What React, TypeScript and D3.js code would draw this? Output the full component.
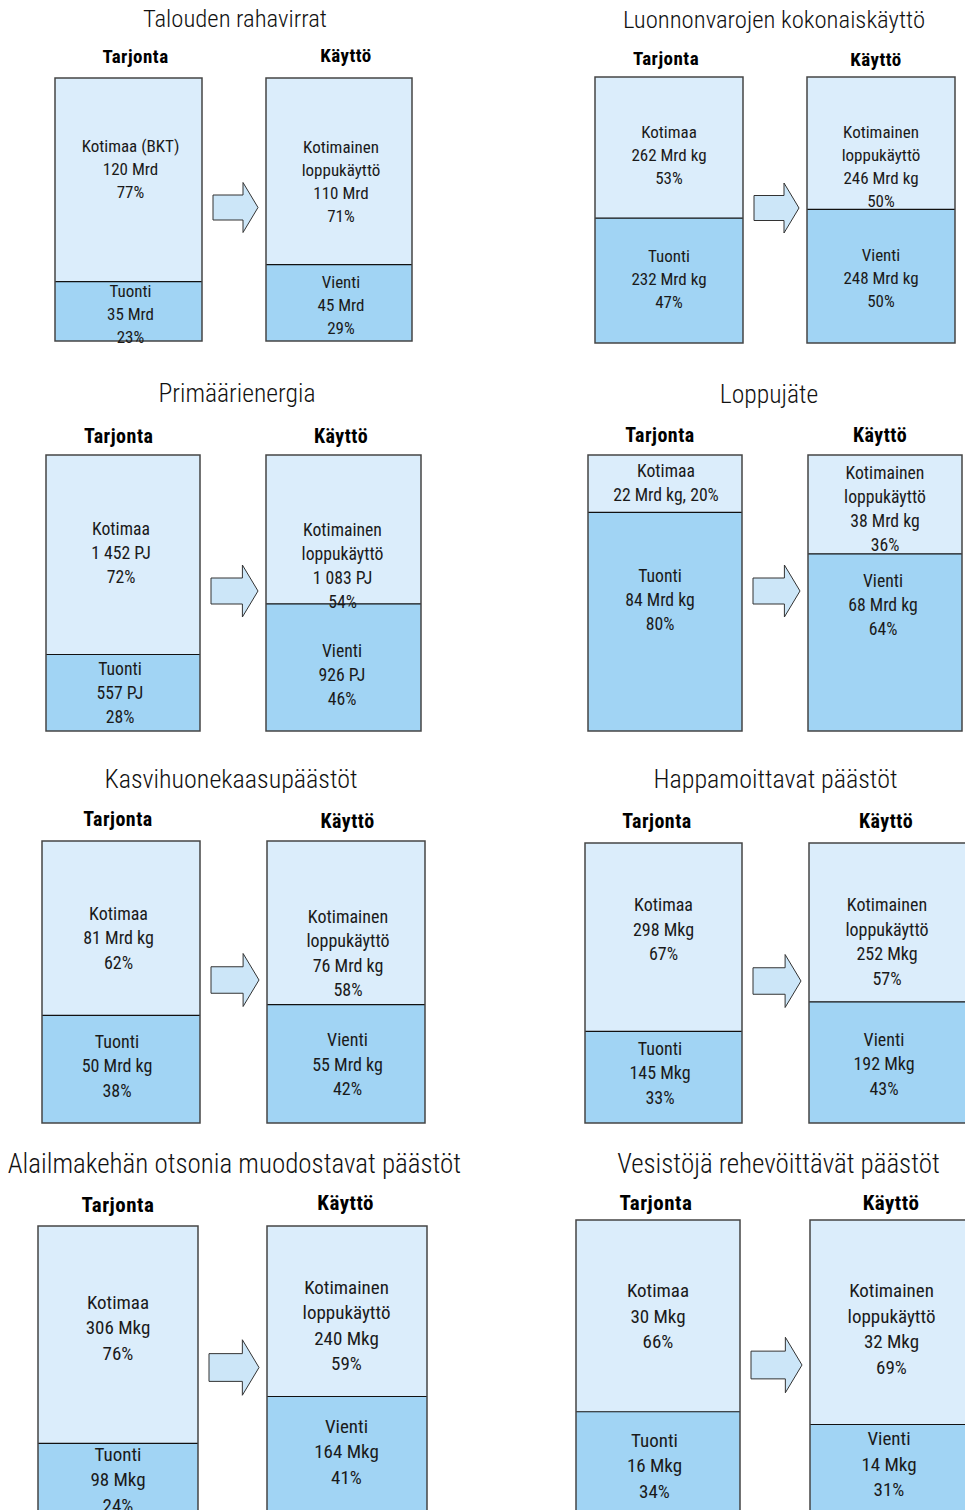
import React from "react";
import * as d3 from "d3";

// Supply and use of eight national accounts / environmental accounts
const panelTitles = [
  "Talouden rahavirrat",
  "Luonnonvarojen kokonaiskäyttö",
  "Primäärienergia",
  "Loppujäte",
  "Kasvihuonekaasupäästöt",
  "Happamoittavat päästöt",
  "Alailmakehän otsonia muodostavat päästöt",
  "Vesistöjä rehevöittävät päästöt",
];
const units = ["Mrd", "Mrd kg", "PJ", "Mrd kg", "Mrd kg", "Mkg", "Mkg", "Mkg"];
const domesticSupplyNames = ["Kotimaa (BKT)", "Kotimaa", "Kotimaa", "Kotimaa", "Kotimaa", "Kotimaa", "Kotimaa", "Kotimaa"];

const supplyDomestic = [120, 262, 1452, 22, 81, 298, 306, 30];
const supplyImport = [35, 232, 557, 84, 50, 145, 98, 16];
const useDomestic = [110, 246, 1083, 38, 76, 252, 240, 32];
const useExport = [45, 248, 926, 68, 55, 192, 164, 14];

const supplyDomesticPct = [77, 53, 72, 20, 62, 67, 76, 66];
const supplyImportPct = [23, 47, 28, 80, 38, 33, 24, 34];
const useDomesticPct = [71, 50, 54, 36, 58, 57, 59, 69];
const useExportPct = [29, 50, 46, 64, 42, 43, 41, 31];

const supplyHeading = "Tarjonta";
const useHeading = "Käyttö";
const importName = "Tuonti";
const exportName = ["Vienti"];
const domesticUseName = ["Kotimainen", "loppukäyttö"];

// ---- layout ----
const W = 965;
const H = 1510;
const FONT = "'Roboto Condensed', 'Liberation Sans Narrow', 'DejaVu Sans Condensed', sans-serif";
const COLOR_TOP = "#dbedfb";
const COLOR_BOTTOM = "#a1d4f4";
const COLOR_ARROW = "#cce6f8";
const COLOR_BORDER = "#454545";

// per-row typography
const rowStyle = [
  { fs: 17, lh: 23, title: 24.7, sub: 19, scale: 1.0 },
  { fs: 17.7, lh: 24, title: 25.6, sub: 20, scale: 1.04 },
  { fs: 18, lh: 24.5, title: 26, sub: 20, scale: 1.06 },
  { fs: 19, lh: 25.5, title: 27, sub: 21, scale: 1.11 },
];

type Layout = {
  row: number;
  title: [number, number];
  subL: [number, number];
  subR: [number, number];
  boxL: [number, number];
  boxR: [number, number];
  y: [number, number];
  dyL: [number, number];
  dyR: [number, number];
  dxL: [number, number];
  dxR: [number, number];
  compactTop?: boolean;
};

const layouts: Layout[] = [
  { row: 0, title: [235, 27], subL: [135.5, 63], subR: [346, 62], boxL: [55, 202], boxR: [266, 412], y: [78, 341], dyL: [-11, 3], dyR: [10, 2.5], dxL: [2, 2], dxR: [2, 2] },
  { row: 0, title: [774, 28], subL: [666, 65], subR: [876, 66], boxL: [595, 743], boxR: [807, 955], y: [77, 343], dyL: [7.5, -2], dyR: [23.4, 2], dxL: [0, 0], dxR: [0, 0] },
  { row: 1, title: [237, 402], subL: [118.7, 443], subR: [341, 443], boxL: [46, 200], boxR: [266, 421], y: [455, 731], dyL: [-2, 0], dyR: [36.6, 7], dxL: [-2, -3], dxR: [-1, -1.5] },
  { row: 1, title: [769, 403], subL: [660, 442], subR: [880, 442], boxL: [588, 742], boxR: [808, 962], y: [455, 731], dyL: [-0.7, -21.7], dyR: [3.8, -38], dxL: [1, -5], dxR: [0, -2], compactTop: true },
  { row: 2, title: [231, 788], subL: [118, 826], subR: [347.5, 828], boxL: [42, 200], boxR: [267, 425], y: [841, 1123], dyL: [9.8, -3.4], dyR: [30.2, 0.7], dxL: [-2.5, -4], dxR: [2, 1.5] },
  { row: 2, title: [775.5, 788], subL: [657, 828], subR: [886, 828], boxL: [585, 742], boxR: [809, 966], y: [843, 1123], dyL: [-7.6, -4.3], dyR: [19.4, 1.5], dxL: [0, -3.5], dxR: [-0.5, -3.5] },
  { row: 3, title: [234.5, 1173], subL: [118, 1212], subR: [345.7, 1210], boxL: [38, 198], boxR: [267, 427], y: [1226, 1513], dyL: [-7, 1.5], dyR: [13.8, -3.3], dxL: [0, 0], dxR: [-0.5, -0.5] },
  { row: 3, title: [778.5, 1173], subL: [656, 1210], subR: [891, 1210], boxL: [576, 740], boxR: [810, 975], y: [1220, 1514], dyL: [0, 2.7], dyR: [6.5, -5.3], dxL: [0, -3.5], dxR: [-1, -3.5] },
];

const numLocale = d3.formatLocale({ decimal: ",", thousands: "\u00a0", grouping: [3], currency: ["", ""] });
const fmtNum = numLocale.format(",");

function LabelBlock({ lines, cx, cy, fs, lh }: { lines: string[]; cx: number; cy: number; fs: number; lh: number }) {
  const n = lines.length;
  return (
    <text textAnchor="middle" fontFamily={FONT} fontSize={fs} fill="#1a1a1a">
      {lines.map((s, i) => (
        <tspan key={i} x={cx} y={cy + (i - (n - 1) / 2) * lh + 0.355 * fs}>
          {s}
        </tspan>
      ))}
    </text>
  );
}

function StackBox({
  x0, x1, y, top, bottom, topLines, bottomLines, dy, dx, fs, lh,
}: {
  x0: number; x1: number; y: d3.ScaleLinear<number, number>; top: number; bottom: number;
  topLines: string[]; bottomLines: string[]; dy: [number, number]; dx: [number, number]; fs: number; lh: number;
}) {
  const yTop = y(0);
  const yDiv = y(top);
  const yEnd = y(top + bottom);
  const cx = (x0 + x1) / 2;
  return (
    <g>
      <rect x={x0} y={yTop} width={x1 - x0} height={yDiv - yTop} fill={COLOR_TOP} />
      <rect x={x0} y={yDiv} width={x1 - x0} height={yEnd - yDiv} fill={COLOR_BOTTOM} />
      <line x1={x0} x2={x1} y1={yDiv} y2={yDiv} stroke="#111" strokeWidth={1.2} />
      <rect x={x0} y={yTop} width={x1 - x0} height={yEnd - yTop} fill="none" stroke={COLOR_BORDER} strokeWidth={1.5} />
      <LabelBlock lines={topLines} cx={cx + dx[0]} cy={(yTop + yDiv) / 2 + dy[0]} fs={fs} lh={lh} />
      <LabelBlock lines={bottomLines} cx={cx + dx[1]} cy={(yDiv + yEnd) / 2 + dy[1]} fs={fs} lh={lh} />
    </g>
  );
}

function Arrow({ x0, x1, cy, s }: { x0: number; x1: number; cy: number; s: number }) {
  const headH = 25 * s;
  const bodyH = 12.5 * s;
  const headLen = 15 * s;
  const p = d3.path();
  p.moveTo(x0, cy - bodyH);
  p.lineTo(x1 - headLen, cy - bodyH);
  p.lineTo(x1 - headLen, cy - headH);
  p.lineTo(x1, cy);
  p.lineTo(x1 - headLen, cy + headH);
  p.lineTo(x1 - headLen, cy + bodyH);
  p.lineTo(x0, cy + bodyH);
  p.closePath();
  return <path d={p.toString()} fill={COLOR_ARROW} stroke="#333" strokeWidth={1} strokeLinejoin="miter" />;
}

function Panel({ i }: { i: number }) {
  const L = layouts[i];
  const st = rowStyle[L.row];
  const total = supplyDomestic[i] + supplyImport[i];
  const totalUse = useDomestic[i] + useExport[i];
  const ySupply = d3.scaleLinear().domain([0, total]).range(L.y);
  const yUse = d3.scaleLinear().domain([0, totalUse]).range(L.y);
  const unit = units[i];
  const val = (v: number) => `${fmtNum(v)} ${unit}`;

  const supplyTop = L.compactTop
    ? [domesticSupplyNames[i], `${val(supplyDomestic[i])}, ${supplyDomesticPct[i]}%`]
    : [domesticSupplyNames[i], val(supplyDomestic[i]), `${supplyDomesticPct[i]}%`];
  const supplyBottom = [importName, val(supplyImport[i]), `${supplyImportPct[i]}%`];
  const useTop = [...domesticUseName, val(useDomestic[i]), `${useDomesticPct[i]}%`];
  const useBottom = [...exportName, val(useExport[i]), `${useExportPct[i]}%`];

  const cy = (L.y[0] + L.y[1]) / 2 - 2;

  return (
    <g>
      <text x={L.title[0]} y={L.title[1]} textAnchor="middle" fontFamily={FONT} fontWeight={300} fontSize={st.title} fill="#111">
        {panelTitles[i]}
      </text>
      <text x={L.subL[0]} y={L.subL[1]} textAnchor="middle" fontFamily={FONT} fontWeight={700} fontSize={st.sub} letterSpacing={0.5} fill="#000">
        {supplyHeading}
      </text>
      <text x={L.subR[0]} y={L.subR[1]} textAnchor="middle" fontFamily={FONT} fontWeight={700} fontSize={st.sub} letterSpacing={0.5} fill="#000">
        {useHeading}
      </text>
      <StackBox x0={L.boxL[0]} x1={L.boxL[1]} y={ySupply} top={supplyDomestic[i]} bottom={supplyImport[i]}
        topLines={supplyTop} bottomLines={supplyBottom} dy={L.dyL} dx={L.dxL} fs={st.fs} lh={st.lh} />
      <StackBox x0={L.boxR[0]} x1={L.boxR[1]} y={yUse} top={useDomestic[i]} bottom={useExport[i]}
        topLines={useTop} bottomLines={useBottom} dy={L.dyR} dx={L.dxR} fs={st.fs} lh={st.lh} />
      <Arrow x0={L.boxL[1] + 11} x1={L.boxR[0] - 8} cy={cy} s={st.scale} />
    </g>
  );
}

export default function App() {
  return (
    <svg width={W} height={H} viewBox={`0 0 ${W} ${H}`}
      style={{ position: "absolute", left: 0, top: 0, display: "block", background: "#fff" }}>
      <rect x={0} y={0} width={W} height={H} fill="#fff" />
      {panelTitles.map((_, i) => (
        <Panel key={i} i={i} />
      ))}
    </svg>
  );
}
